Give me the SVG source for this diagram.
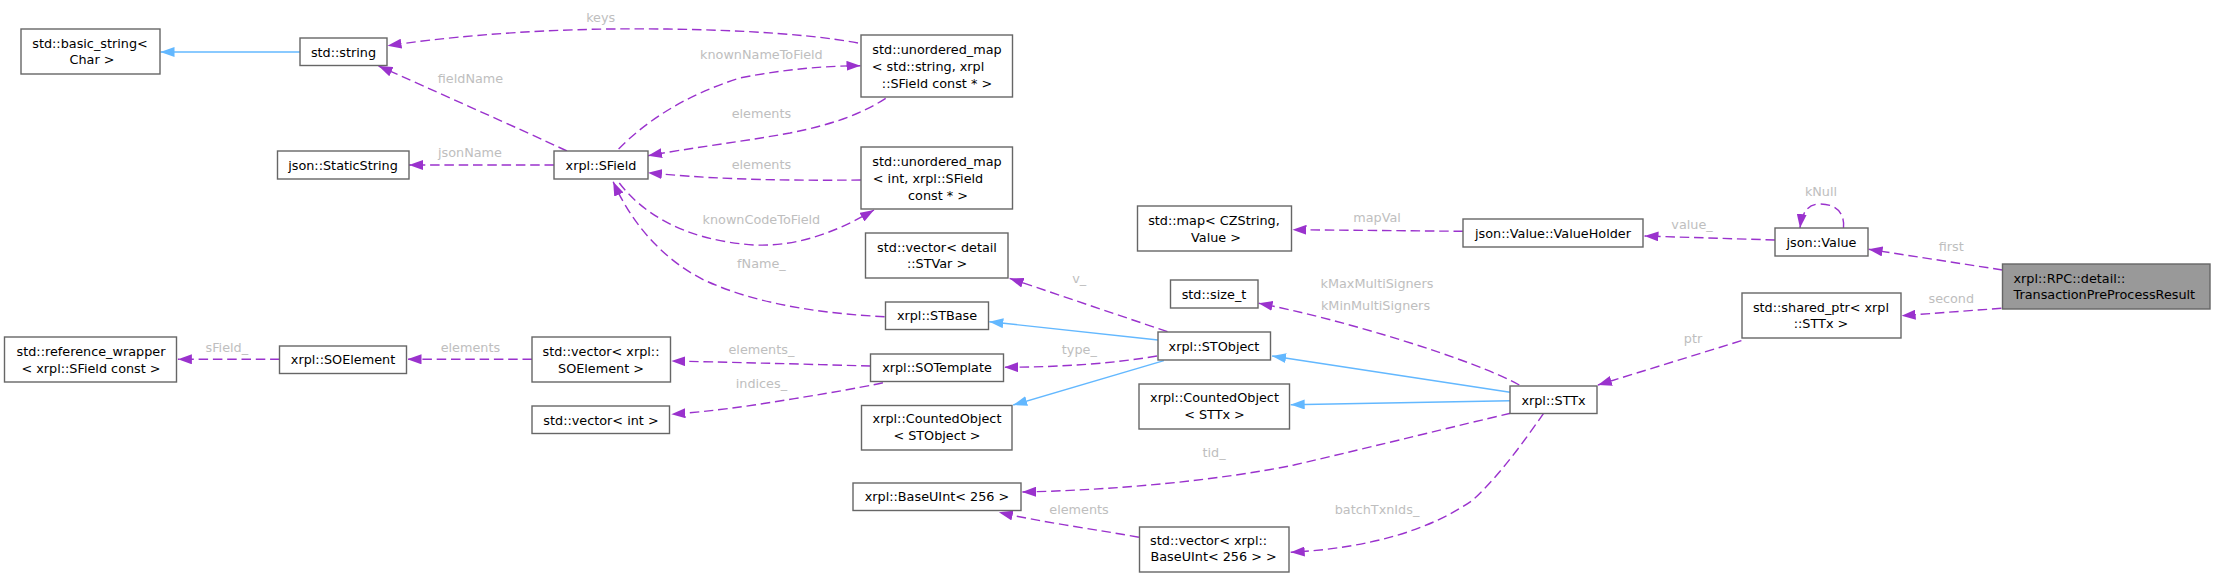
<svg xmlns="http://www.w3.org/2000/svg" width="2215" height="577" viewBox="0 0 2215 577">
<style>
.node rect{fill:#fff;stroke:#666;stroke-width:1.4}
.node text{font-family:'DejaVu Sans',sans-serif;font-size:12.8px;fill:#000;text-anchor:middle}
.e{fill:none;stroke-width:1.4}
.dep{stroke:#9a32cd;stroke-dasharray:9.5,4.8;marker-end:url(#ap)}
.inh{stroke:#63b8ff;marker-end:url(#ab)}
.lbl{font-family:'DejaVu Sans',sans-serif;font-size:12.8px;fill:#bebebe;text-anchor:middle}
</style>
<defs>
<marker id="ap" markerUnits="userSpaceOnUse" markerWidth="14" markerHeight="10" viewBox="0 0 14 10" refX="14" refY="5" orient="auto"><path d="M0,0L14,5L0,10z" fill="#9a32cd"/></marker>
<marker id="ab" markerUnits="userSpaceOnUse" markerWidth="14" markerHeight="10" viewBox="0 0 14 10" refX="14" refY="5" orient="auto"><path d="M0,0L14,5L0,10z" fill="#63b8ff"/></marker>
</defs>
<rect width="2215" height="577" fill="#fff"/>
<g id="edges">
<path class="e inh" d="M300,52L160.5,52"/>
<path class="e dep" d="M858,43C800,32 700,28 611,29C520,30 440,38 387.5,45.7"/>
<text class="lbl" x="600.7" y="21.5">keys</text>
<path class="e dep" d="M567,151C520,129 430,89 378.6,66"/>
<text class="lbl" x="470.5" y="82.5">fieldName</text>
<path class="e dep" d="M554,165L409,165"/>
<text class="lbl" x="470" y="156.5">jsonName</text>
<path class="e dep" d="M618.6,149C645,122 685,95 740,78C790,68 830,66 860.5,65.7"/>
<text class="lbl" x="761.4" y="58.5">knownNameToField</text>
<path class="e dep" d="M885.7,98.3C860,115 830,125 790,133C740,142 690,148 648,155.7"/>
<text class="lbl" x="761.4" y="117.5">elements</text>
<path class="e dep" d="M861,180C760,181 700,178 648,172.7"/>
<text class="lbl" x="761.4" y="168.5">elements</text>
<path class="e dep" d="M619.3,183C640,210 680,240 754,245C800,247 840,230 874,210"/>
<text class="lbl" x="761.4" y="223.5">knownCodeToField</text>
<path class="e dep" d="M884.6,316.7C830,314 760,306 704,280C660,258 630,220 613.2,181.7"/>
<text class="lbl" x="761.4" y="267.5">fName_</text>
<path class="e dep" d="M1167.5,331.7L1009.6,278.3"/>
<text class="lbl" x="1079.3" y="282.5">v_</text>
<path class="e inh" d="M1158,340L989.3,321.7"/>
<path class="e dep" d="M1157,356C1110,364 1060,367 1004.3,367.3"/>
<text class="lbl" x="1079.3" y="353.5">type_</text>
<path class="e inh" d="M1163.9,360.7L1013.2,405"/>
<path class="e dep" d="M870.4,366C800,364 720,362 671.4,361"/>
<text class="lbl" x="761.4" y="353.5">elements_</text>
<path class="e dep" d="M882.9,382.7C860,388 800,398 754,405C720,410 690,413 671.4,414.3"/>
<text class="lbl" x="761.4" y="387.5">indices_</text>
<path class="e dep" d="M532,359.3L407.5,359.3"/>
<text class="lbl" x="470.4" y="351.5">elements</text>
<path class="e dep" d="M279.6,359.3L177.9,359.3"/>
<text class="lbl" x="226.8" y="351.5">sField_</text>
<path class="e dep" d="M1519.3,385C1475,360 1338.6,318.3 1258.6,303.3"/>
<text class="lbl" x="1377" y="287.5">kMaxMultiSigners</text>
<text class="lbl" x="1375.5" y="309.5">kMinMultiSigners</text>
<path class="e inh" d="M1510,392.3L1272.1,356"/>
<path class="e inh" d="M1510,400.7L1290.7,404.7"/>
<path class="e dep" d="M1510.4,413.3C1460,425 1380,445 1294,465C1220,480 1120,490 1022.1,492"/>
<text class="lbl" x="1214" y="457">tid_</text>
<path class="e dep" d="M1543.6,413.3C1525,440 1500,475 1472.9,500C1430,530 1370,548 1290.7,552.3"/>
<text class="lbl" x="1377" y="513.5">batchTxnIds_</text>
<path class="e dep" d="M1138.9,537.3C1100,530 1040,522 998.9,512.3"/>
<text class="lbl" x="1079" y="513.5">elements</text>
<path class="e dep" d="M1741.4,340.7L1597.9,385"/>
<text class="lbl" x="1693" y="342.5">ptr</text>
<path class="e dep" d="M1463,231.3L1292.5,229.7"/>
<text class="lbl" x="1377" y="221.5">mapVal</text>
<path class="e dep" d="M1775,240L1644.5,236"/>
<text class="lbl" x="1692" y="228.5">value_</text>
<path class="e dep" d="M1843.5,228C1845,212 1835,204 1820,204C1808,204 1802,212 1800,228"/>
<text class="lbl" x="1821" y="195.5">kNull</text>
<path class="e dep" d="M2002.5,270L1868.6,249.3"/>
<text class="lbl" x="1951.3" y="250.5">first</text>
<path class="e dep" d="M2001.4,308.3L1901.6,315.7"/>
<text class="lbl" x="1951.3" y="302.5">second</text>
</g>
<g id="nodes">
<g id="basic_string" class="node"><rect x="21" y="29" width="139" height="45"/><text x="90" y="47.5">std::basic_string&lt;</text><text x="92" y="64">Char &gt;</text></g>
<g id="std_string" class="node"><rect x="300" y="38" width="87" height="27.5"/><text x="343.5" y="56.5">std::string</text></g>
<g id="StaticString" class="node"><rect x="277.5" y="151" width="131.5" height="28"/><text x="343" y="169.5">json::StaticString</text></g>
<g id="SField" class="node"><rect x="554" y="151" width="94" height="28"/><text x="601" y="169.5">xrpl::SField</text></g>
<g id="umap_string" class="node"><rect x="861" y="35" width="151.5" height="62"/><text x="937" y="53.5">std::unordered_map</text><text x="928" y="70.5">&lt; std::string, xrpl</text><text x="937" y="87.5">::SField const * &gt;</text></g>
<g id="umap_int" class="node"><rect x="861" y="147" width="151.5" height="62"/><text x="937" y="165.5">std::unordered_map</text><text x="928" y="182.5">&lt; int, xrpl::SField</text><text x="938" y="199.5">const * &gt;</text></g>
<g id="vec_STVar" class="node"><rect x="865.5" y="233" width="142.5" height="45"/><text x="937" y="251.5">std::vector&lt; detail</text><text x="937" y="268">::STVar &gt;</text></g>
<g id="std_map" class="node"><rect x="1137.5" y="206" width="154" height="45"/><text x="1214" y="224.5">std::map&lt; CZString,</text><text x="1216" y="241.5">Value &gt;</text></g>
<g id="ValueHolder" class="node"><rect x="1463" y="219" width="180" height="28"/><text x="1553" y="237.5">json::Value::ValueHolder</text></g>
<g id="size_t" class="node"><rect x="1170.5" y="280" width="87.5" height="28"/><text x="1214" y="298.5">std::size_t</text></g>
<g id="json_Value" class="node"><rect x="1775" y="228" width="93" height="28"/><text x="1821.5" y="246.5">json::Value</text></g>
<g id="TPPR" class="node"><rect x="2002.5" y="264" width="207.5" height="45" style="fill:#999"/><text x="2013.5" y="282.5" style="text-anchor:start">xrpl::RPC::detail::</text><text x="2013.5" y="299" style="text-anchor:start">TransactionPreProcessResult</text></g>
<g id="shared_ptr" class="node"><rect x="1742" y="293" width="159" height="45"/><text x="1821" y="311.5">std::shared_ptr&lt; xrpl</text><text x="1821" y="328">::STTx &gt;</text></g>
<g id="ref_wrapper" class="node"><rect x="4.5" y="337" width="172" height="45"/><text x="91" y="355.5">std::reference_wrapper</text><text x="91" y="372.5">&lt; xrpl::SField const &gt;</text></g>
<g id="SOElement" class="node"><rect x="279.5" y="346" width="127" height="27.5"/><text x="343" y="364">xrpl::SOElement</text></g>
<g id="vec_SOElement" class="node"><rect x="532" y="337" width="138.5" height="45"/><text x="601" y="355.5">std::vector&lt; xrpl::</text><text x="601" y="372.5">SOElement &gt;</text></g>
<g id="vec_int" class="node"><rect x="532" y="406" width="137.5" height="27.5"/><text x="601" y="424.5">std::vector&lt; int &gt;</text></g>
<g id="STBase" class="node"><rect x="885.5" y="302" width="103" height="27.5"/><text x="937" y="320">xrpl::STBase</text></g>
<g id="SOTemplate" class="node"><rect x="870.5" y="354" width="133" height="27.5"/><text x="937" y="372">xrpl::SOTemplate</text></g>
<g id="CO_STObject" class="node"><rect x="861.5" y="405.5" width="150.5" height="44.5"/><text x="937" y="423.2">xrpl::CountedObject</text><text x="937" y="440.2">&lt; STObject &gt;</text></g>
<g id="BaseUInt" class="node"><rect x="853" y="483" width="168" height="27.5"/><text x="937" y="501">xrpl::BaseUInt&lt; 256 &gt;</text></g>
<g id="STObject" class="node"><rect x="1158" y="332" width="112.5" height="28"/><text x="1214" y="350.5">xrpl::STObject</text></g>
<g id="CO_STTx" class="node"><rect x="1139" y="384" width="150.5" height="45"/><text x="1214.5" y="401.8">xrpl::CountedObject</text><text x="1214.5" y="418.8">&lt; STTx &gt;</text></g>
<g id="STTx" class="node"><rect x="1510" y="386" width="87" height="27.5"/><text x="1553.5" y="404.5">xrpl::STTx</text></g>
<g id="vec_BaseUInt" class="node"><rect x="1139.5" y="527" width="149.5" height="45"/><text x="1208.6" y="544.5">std::vector&lt; xrpl::</text><text x="1213.6" y="561">BaseUInt&lt; 256 &gt; &gt;</text></g>
</g>
</svg>
